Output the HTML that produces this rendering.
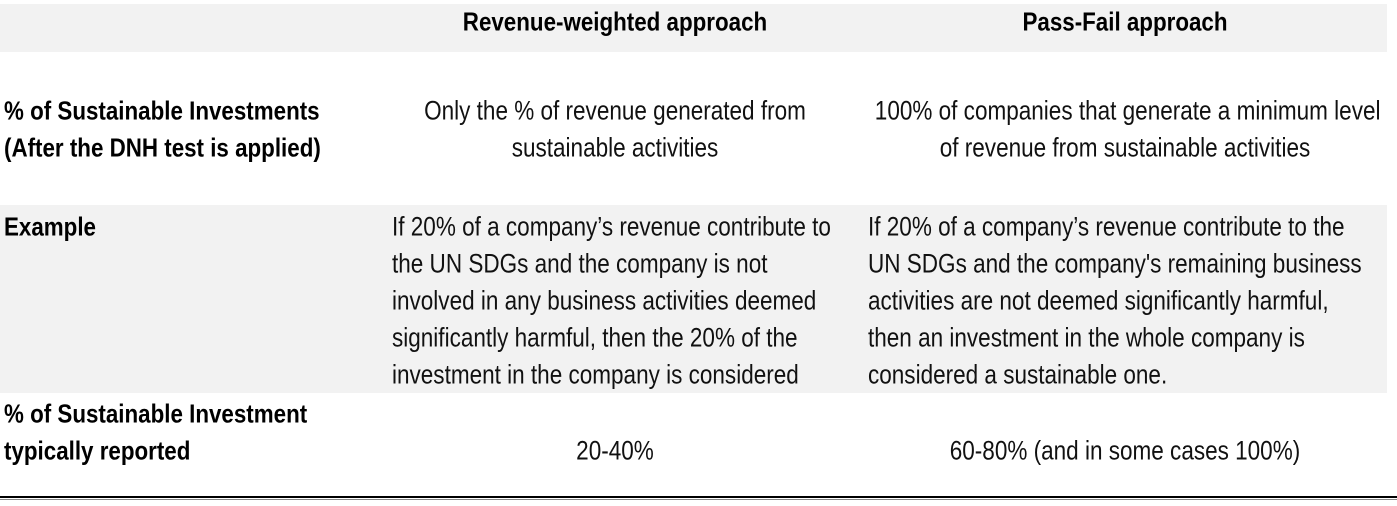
<!DOCTYPE html>
<html><head><style>
body{margin:0;width:1397px;height:506px;background:#fff;position:relative;overflow:hidden;font-family:"Liberation Sans",sans-serif;color:#111;font-size:27px}
.b{position:absolute;background:#f2f2f2;left:0;width:1387px}
.t{position:absolute;white-space:nowrap;line-height:37px;transform:translateY(-50%) scaleX(0.834);transform-origin:0 50%}
.c{text-align:center;width:600px;transform-origin:50% 50%}
.bold{font-weight:bold;color:#000;font-size:26px;transform:translateY(-50%) scaleX(0.86)}
</style></head><body>
<div class="b" style="top:4px;height:48px"></div>
<div class="b" style="top:205px;height:188px"></div>
<div style="position:absolute;left:0;top:496px;width:1397px;height:2px;background:#000"></div>
<div style="position:absolute;left:0;top:499px;width:1397px;height:1px;background:#888"></div>

<div class="t c bold" style="left:315px;top:22px">Revenue-weighted approach</div>
<div class="t c bold" style="left:825px;top:22px">Pass-Fail approach</div>

<div class="t bold" style="left:4px;top:111px">% of Sustainable Investments</div>
<div class="t bold" style="left:4px;top:148px">(After the DNH test is applied)</div>
<div class="t c" style="left:315px;top:111px">Only the % of revenue generated from</div>
<div class="t c" style="left:315px;top:148px">sustainable activities</div>
<div class="t c" style="left:825px;top:111px">100% of companies that generate a minimum level</div>
<div class="t c" style="left:825px;top:148px">of revenue from sustainable activities</div>

<div class="t bold" style="left:4px;top:227px">Example</div>
<div class="t" style="left:392px;top:227px">If 20% of a company’s revenue contribute to</div>
<div class="t" style="left:392px;top:264px">the UN SDGs and the company is not</div>
<div class="t" style="left:392px;top:301px">involved in any business activities deemed</div>
<div class="t" style="left:392px;top:338px">significantly harmful, then the 20% of the</div>
<div class="t" style="left:392px;top:375px">investment in the company is considered</div>
<div class="t" style="left:868px;top:227px">If 20% of a company’s revenue contribute to the</div>
<div class="t" style="left:868px;top:264px">UN SDGs and the company's remaining business</div>
<div class="t" style="left:868px;top:301px">activities are not deemed significantly harmful,</div>
<div class="t" style="left:868px;top:338px">then an investment in the whole company is</div>
<div class="t" style="left:868px;top:375px">considered a sustainable one.</div>

<div class="t bold" style="left:4px;top:414px">% of Sustainable Investment</div>
<div class="t bold" style="left:4px;top:451px">typically reported</div>
<div class="t c" style="left:315px;top:451px">20-40%</div>
<div class="t c" style="left:825px;top:451px">60-80% (and in some cases 100%)</div>
</body></html>
